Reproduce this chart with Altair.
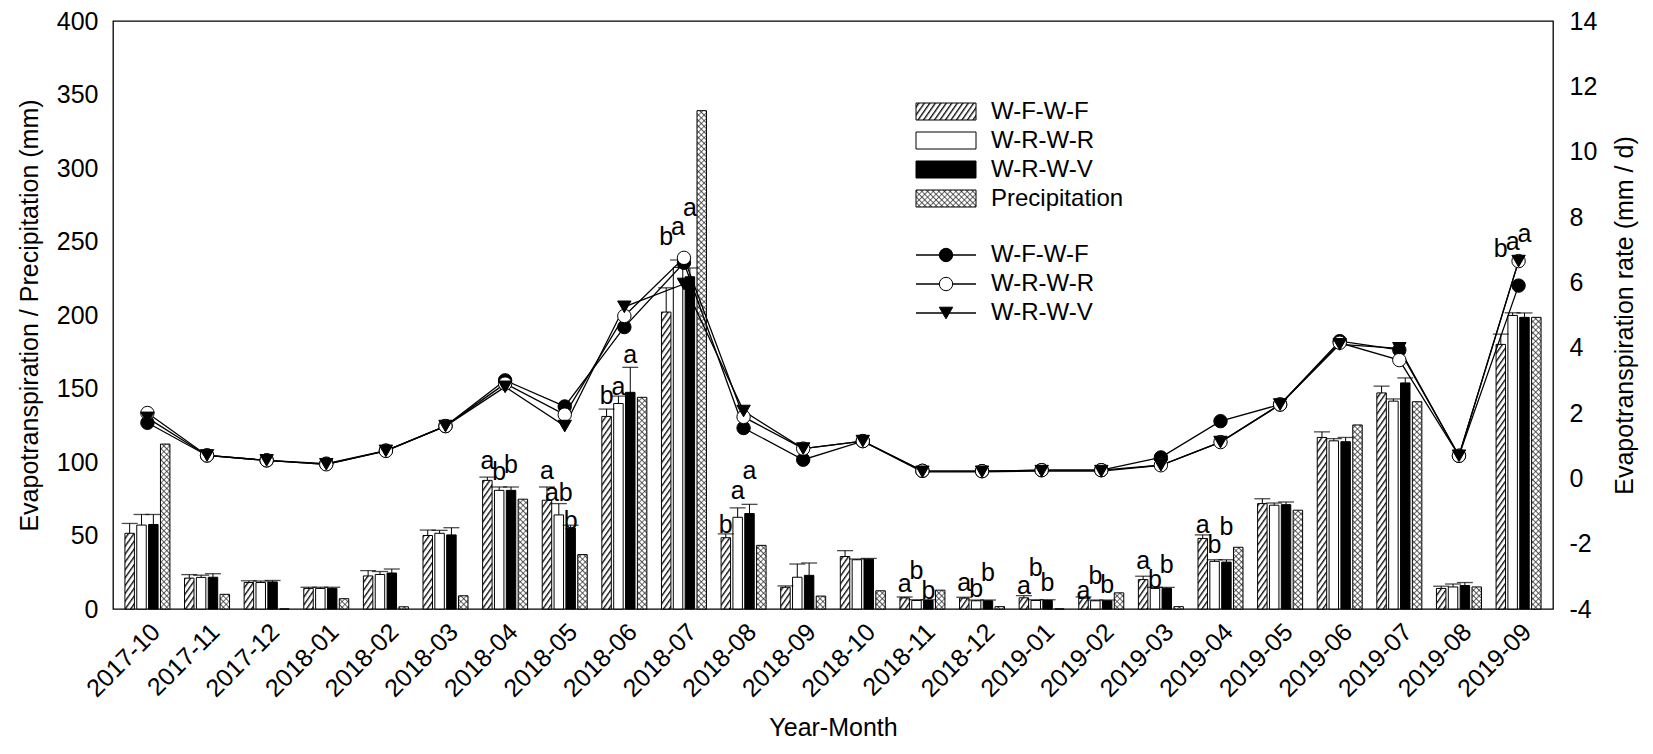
import altair as alt
import pandas as pd
import jinja2

# ---------------- data ----------------
MONTHS = ["2017-10", "2017-11", "2017-12", "2018-01", "2018-02", "2018-03",
          "2018-04", "2018-05", "2018-06", "2018-07", "2018-08", "2018-09",
          "2018-10", "2018-11", "2018-12", "2019-01", "2019-02", "2019-03",
          "2019-04", "2019-05", "2019-06", "2019-07", "2019-08", "2019-09"]
BAR_SERIES = ["W-F-W-F", "W-R-W-R", "W-R-W-V", "Precipitation"]
LINE_SERIES = ["W-F-W-F", "W-R-W-R", "W-R-W-V"]

ET_WFWF = [51.5, 21, 18, 14, 22.5, 50, 87.5, 74, 131, 202, 48.5, 14.8,
           35.7, 7.6, 7.4, 7.6, 7.4, 20, 48, 71.7, 116.7, 147, 14, 180]
ET_WRWR = [57.1, 21.5, 18, 14, 23.5, 51.5, 80.7, 64, 139.8, 232.4, 62.4, 21.6,
           33.5, 5.8, 5.6, 5.8, 5.6, 14, 32.4, 70.6, 114.4, 141.4, 15, 199.7]
ET_WRWV = [57.5, 21.6, 18.4, 14, 24.5, 50.4, 80.7, 55, 147.4, 226, 64.9, 22.9,
           33.9, 5.8, 5.6, 5.8, 5.6, 14, 31.9, 71, 113.8, 153.8, 16, 198.4]
ERR_WFWF = [6.7, 2.4, 1.2, 0.8, 3.6, 3.7, 2.2, 9, 5, 16.5, 2.6, 0.9,
            4, 0.6, 0.6, 1.5, 0.8, 2.3, 2.4, 3.3, 3.8, 4.6, 1.5, 7]
ERR_WRWR = [7.2, 1.5, 1, 0.8, 2, 2, 2.3, 7.7, 5, 5, 6.4, 9,
            0.5, 0.5, 0.5, 0.5, 0.5, 0.7, 1.1, 1.5, 1.5, 1.5, 2, 1.8]
ERR_WRWV = [6.8, 2.4, 1, 0.8, 2.7, 4.9, 2.3, 2, 17, 6, 6.3, 8.4,
            0.5, 0.5, 0.5, 0.5, 0.5, 0.7, 1.6, 1.8, 2.9, 3.4, 2, 3]
PRECIP = [112.2, 10, 0, 7, 1.5, 9, 74.7, 37, 144, 339, 43.3, 8.8,
          12.4, 12.8, 1.6, 0, 11, 1.6, 42, 67.2, 125.2, 141, 15, 198.4]

RATE_WFWF = [1.7, 0.7, 0.55, 0.45, 0.85, 1.6, 3.0, 2.2, 4.63, 6.6, 1.54, 0.57,
             1.14, 0.23, 0.22, 0.25, 0.25, 0.64, 1.75, 2.26, 4.2, 3.93, 0.69, 5.9]
RATE_WRWR = [2.0, 0.7, 0.55, 0.43, 0.84, 1.6, 2.9, 1.95, 4.97, 6.75, 1.88, 0.91,
             1.14, 0.23, 0.22, 0.25, 0.25, 0.4, 1.11, 2.26, 4.15, 3.62, 0.69, 6.65]
RATE_WRWV = [1.85, 0.7, 0.55, 0.43, 0.84, 1.6, 2.8, 1.6, 5.25, 5.95, 2.06, 0.91,
             1.14, 0.2, 0.2, 0.22, 0.22, 0.4, 1.11, 2.26, 4.1, 3.98, 0.69, 6.65]

# significance letters (month -> letters for the three treatments, label heights in mm)
LETTERS = {
    "2018-04": ("a", "b", "b", 101, 93, 98),
    "2018-05": ("a", "ab", "b", 94, 79, 60),
    "2018-06": ("b", "a", "a", 145, 151, 173),
    "2018-07": ("b", "a", "a", 253, 260, 273),
    "2018-08": ("b", "a", "a", 57, 80, 94),
    "2018-11": ("a", "b", "b", 16.9, 25.6, 12.1),
    "2018-12": ("a", "b", "b", 17.7, 13.3, 24.5),
    "2019-01": ("a", "b", "b", 15.5, 27.9, 17.7),
    "2019-02": ("a", "b", "b", 12.1, 22.3, 16.6),
    "2019-03": ("a", "b", "b", 32.4, 20, 30.1),
    "2019-04": ("a", "b", "b", 57.1, 43.6, 56),
    "2019-09": ("b", "a", "a", 245, 250, 255),
}

# ---------------- tables ----------------
bar_rows, err_rows, rate_rows, letter_rows = [], [], [], []
et = [ET_WFWF, ET_WRWR, ET_WRWV]
er = [ERR_WFWF, ERR_WRWR, ERR_WRWV]
rt = [RATE_WFWF, RATE_WRWR, RATE_WRWV]
for i, m in enumerate(MONTHS):
    for k, s in enumerate(LINE_SERIES):
        bar_rows.append({"month": m, "series": s, "value": et[k][i]})
        err_rows.append({"month": m, "series": s, "value": et[k][i],
                         "cap": et[k][i] + er[k][i]})
    bar_rows.append({"month": m, "series": "Precipitation", "value": PRECIP[i]})
for k, s in enumerate(LINE_SERIES):
    for i, m in enumerate(MONTHS):
        rate_rows.append({"month": m, "series": s, "rate": rt[k][i]})
for m, t in LETTERS.items():
    for k, s in enumerate(LINE_SERIES):
        letter_rows.append({"month": m, "series": s, "txt": t[k], "ly": t[3 + k]})

bar_df = pd.DataFrame(bar_rows)
err_df = pd.DataFrame(err_rows)
rate_df = pd.DataFrame(rate_rows)
letter_df = pd.DataFrame(letter_rows)

FONT = "Liberation Sans"
FILLS = ["url(#hatch)", "white", "black", "url(#xhatch)"]

common = dict(ticks=False, domain=False, grid=False, labelFont=FONT, titleFont=FONT,
              labelColor="black", titleColor="black", titleFontWeight="normal")
x_axis = alt.Axis(title="Year-Month", labelAngle=-45, labelAlign="right",
                  labelBaseline="top", labelPadding=10, labelFontSize=25,
                  titleFontSize=25, titlePadding=14, **common)
left_axis = alt.Axis(title="Evapotranspiration / Precipitation (mm)", orient="left",
                     values=list(range(0, 401, 50)), labelFontSize=25, titleFontSize=25,
                     labelPadding=15, titlePadding=14, **common)
right_axis = alt.Axis(title="Evapotranspiration rate (mm / d)", orient="right",
                      values=list(range(-4, 15, 2)), labelExpr="'' + datum.value",
                      labelFontSize=25, titleFontSize=25, labelPadding=16,
                      titlePadding=16, titleAngle=270, titleBaseline="top", **common)

X = alt.X("month:N", sort=MONTHS,
          scale=alt.Scale(domain=MONTHS, paddingInner=0.245, paddingOuter=0.2),
          axis=x_axis)
XO = alt.XOffset("series:N", sort=BAR_SERIES,
                 scale=alt.Scale(domain=BAR_SERIES, paddingInner=0.2, paddingOuter=0))
YL_SCALE = alt.Scale(domain=[0, 400], nice=False, zero=True)
YR_SCALE = alt.Scale(domain=[-4, 14], nice=False, zero=False)

bars = alt.Chart(bar_df).mark_bar(stroke="black", strokeWidth=1).encode(
    x=X, xOffset=XO,
    y=alt.Y("value:Q", scale=YL_SCALE, axis=left_axis),
    fill=alt.Fill("series:N", scale=alt.Scale(domain=BAR_SERIES, range=FILLS), legend=None),
)
err_lines = alt.Chart(err_df).mark_rule(color="black", strokeWidth=1).encode(
    x=X, xOffset=XO,
    y=alt.Y("value:Q", scale=YL_SCALE, axis=left_axis), y2="cap:Q",
)
err_caps = alt.Chart(err_df).mark_tick(color="black", thickness=1.3, size=16,
                                        orient="horizontal").encode(
    x=X, xOffset=XO,
    y=alt.Y("cap:Q", scale=YL_SCALE, axis=left_axis),
)
letters = alt.Chart(letter_df).mark_text(fontSize=25, font=FONT, color="black",
                                          baseline="middle").encode(
    x=X, xOffset=XO,
    y=alt.Y("ly:Q", scale=YL_SCALE, axis=left_axis),
    text="txt:N",
)
left_layer = alt.layer(bars, err_lines, err_caps, letters)

lines = alt.Chart(rate_df).mark_line(color="black", strokeWidth=1.3).encode(
    x=X,
    y=alt.Y("rate:Q", scale=YR_SCALE, axis=right_axis),
    detail="series:N",
)
points = alt.Chart(rate_df).mark_point(filled=True, size=180, stroke="black",
                                        strokeWidth=1, opacity=1).encode(
    x=X,
    y=alt.Y("rate:Q", scale=YR_SCALE, axis=right_axis),
    shape=alt.Shape("series:N", scale=alt.Scale(domain=LINE_SERIES,
                    range=["circle", "circle", "triangle-down"]), legend=None),
    fill=alt.Fill("series:N", scale=alt.Scale(domain=LINE_SERIES,
                  range=["black", "white", "black"]), legend=None),
)
right_layer = alt.layer(lines, points)

# ---------------- custom legend ----------------
ONE = pd.DataFrame({"k": [0]})
legend_layers = []
for i, s in enumerate(BAR_SERIES):
    y0 = 82 + 29 * i
    legend_layers.append(alt.Chart(ONE).mark_rect(fill=FILLS[i], stroke="black",
                                                  strokeWidth=1).encode(
        x=alt.value(803), x2=alt.value(863), y=alt.value(y0), y2=alt.value(y0 + 17)))
    legend_layers.append(alt.Chart(ONE).mark_text(align="left", baseline="middle",
                                                  fontSize=24, font=FONT, color="black").encode(
        x=alt.value(878), y=alt.value(y0 + 8.5), text=alt.value(s)))
PT_SHAPES = ["circle", "circle", "triangle-down"]
PT_FILLS = ["black", "white", "black"]
for i, s in enumerate(LINE_SERIES):
    yc = 234 + 29 * i
    legend_layers.append(alt.Chart(ONE).mark_rule(color="black", strokeWidth=1.3).encode(
        x=alt.value(803), x2=alt.value(863), y=alt.value(yc)))
    legend_layers.append(alt.Chart(ONE).mark_point(filled=True, size=180, shape=PT_SHAPES[i],
                                                   fill=PT_FILLS[i], stroke="black",
                                                   strokeWidth=1, opacity=1).encode(
        x=alt.value(833), y=alt.value(yc)))
    legend_layers.append(alt.Chart(ONE).mark_text(align="left", baseline="middle",
                                                  fontSize=24, font=FONT, color="black").encode(
        x=alt.value(878), y=alt.value(yc), text=alt.value(s)))

chart = alt.layer(left_layer, right_layer, *legend_layers).resolve_scale(
    y="independent", fill="independent", shape="independent"
).properties(
    width=1440, height=588,
    autosize=alt.AutoSizeParams(type="none"),
    padding={"left": 105, "top": 13, "right": 92, "bottom": 137},
    background="white",
).configure_view(stroke="black", strokeWidth=1.3)

# page template with SVG fill patterns (hatching) referenced by url(#...)
TEMPLATE = jinja2.Template("""<!DOCTYPE html>
<html>
<head>
<meta charset="utf-8">
<script type="text/javascript" src="{{ base_url }}/vega@{{ vega_version }}"></script>
<script type="text/javascript" src="{{ base_url }}/vega-lite@{{ vegalite_version }}"></script>
<script type="text/javascript" src="{{ base_url }}/vega-embed@{{ vegaembed_version }}"></script>
</head>
<body>
<svg width="0" height="0" style="position:absolute;left:0;top:0" aria-hidden="true">
  <defs>
    <pattern id="hatch" patternUnits="userSpaceOnUse" width="4.5" height="4.5" patternTransform="rotate(35)">
      <rect x="0" y="0" width="4.5" height="4.5" fill="white"/>
      <line x1="0.7" y1="0" x2="0.7" y2="4.5" stroke="black" stroke-width="1.3"/>
    </pattern>
    <pattern id="xhatch" patternUnits="userSpaceOnUse" width="4" height="4" patternTransform="rotate(45)">
      <rect x="0" y="0" width="4" height="4" fill="white"/>
      <path d="M0,0 V4 M0,0 H4" stroke="#222" stroke-width="1.3"/>
    </pattern>
  </defs>
</svg>
<div id="{{ output_div }}"></div>
<script>
  (function(spec, embedOpt){
    var el = document.getElementById("{{ output_div }}");
    vegaEmbed(el, spec, Object.assign({"mode": "{{ mode }}"}, embedOpt)).catch(function(err){
      el.innerHTML = '<pre>' + err + '</pre>';
    });
  })({{ spec }}, {{ embed_options }});
</script>
</body>
</html>
""")

chart.save("out.html", embed_options={"renderer": "svg", "actions": False}, template=TEMPLATE)
